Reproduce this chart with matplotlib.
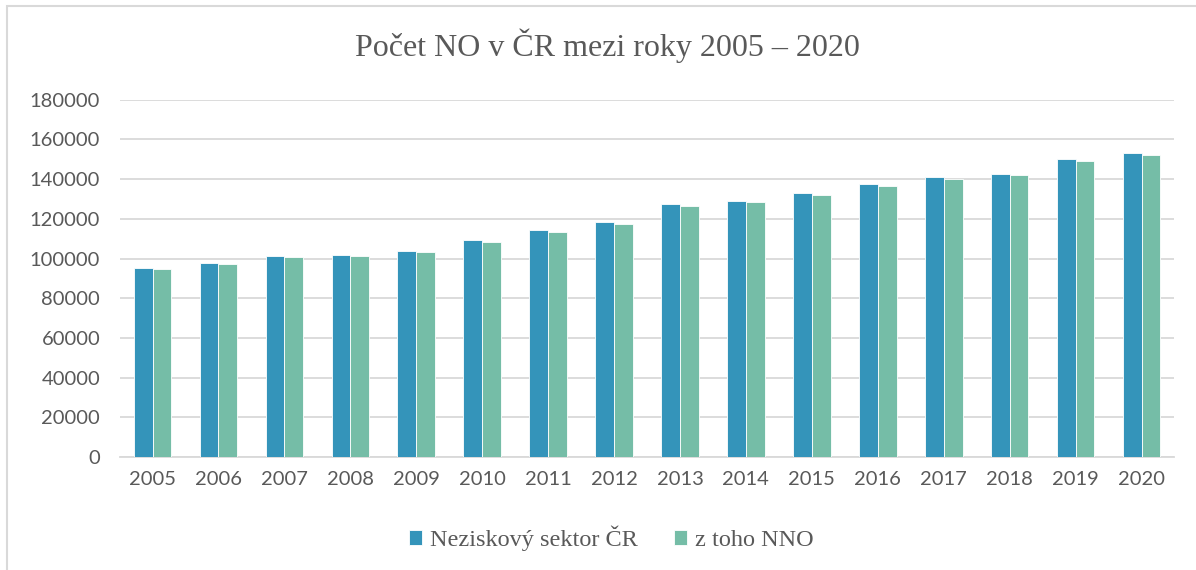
import numpy as np
import matplotlib.pyplot as plt
from matplotlib.patches import Rectangle

roky = ['2005', '2006', '2007', '2008', '2009', '2010', '2011', '2012',
        '2013', '2014', '2015', '2016', '2017', '2018', '2019', '2020']
sektor = [95100, 97950, 101200, 101850, 103850, 109250, 114200, 118300,
          127400, 129050, 132950, 137650, 141000, 142700, 150250, 152950]
nno = [94800, 97300, 100700, 101200, 103200, 108400, 113450, 117650,
       126400, 128400, 132100, 136650, 140000, 141850, 149250, 151950]

modra = '#3494BA'
zelena = '#75BDA7'
seda = '#595959'

fig = plt.figure(figsize=(11.96, 5.70), dpi=100)
ax = fig.add_axes([0.100, 0.198, 0.882, 0.627])

x = np.arange(len(roky))
w = 0.285
ax.bar(x - w/2, sektor, w, color=modra, edgecolor='white', linewidth=0.6,
       label='Neziskový sektor ČR', zorder=3)
ax.bar(x + w/2, nno, w, color=zelena, edgecolor='white', linewidth=0.6,
       label='z toho NNO', zorder=3)

ax.set_ylim(0, 180000)
ax.set_xlim(-0.5, len(roky) - 0.5)
ax.set_yticks(np.arange(0, 180001, 20000))
ax.set_xticks(x)
ax.set_xticklabels(roky)
ax.grid(axis='y', color='#d9d9d9', linewidth=1.3, zorder=0)
for s in ['top', 'right', 'left']:
    ax.spines[s].set_visible(False)
ax.spines['bottom'].set_color('#d9d9d9')
ax.spines['bottom'].set_linewidth(1.3)
ax.tick_params(length=0, labelsize=14.5, labelcolor=seda, pad=10,
               labelfontfamily='Lato')
ax.tick_params(axis='y', pad=14)

fig.suptitle('Počet NO v ČR mezi roky 2005 – 2020', x=0.508, y=0.95,
             fontsize=23, color=seda, family='Liberation Serif')

fig.legend(loc='lower center', bbox_to_anchor=(0.511, -0.005), ncol=2,
           frameon=False, handlelength=0.55, handleheight=0.55,
           handletextpad=0.3, columnspacing=1.5,
           prop={'family': 'Liberation Serif', 'size': 17.5}, labelcolor=seda)

# ramecek grafu
fig.patches.append(Rectangle((0.006, -0.01), 1.0, 1.0, transform=fig.transFigure,
                             fill=False, edgecolor='#d9d9d9', linewidth=1.5))

fig.savefig('out.png', dpi=100)
